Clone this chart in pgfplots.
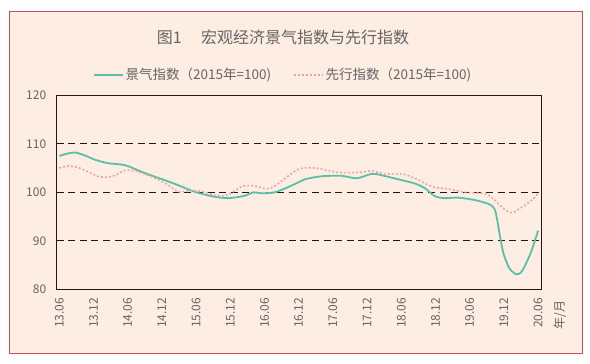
\documentclass[border=0pt]{standalone}
\usepackage{fontspec}
\setmainfont{Noto Sans CJK SC}
\usepackage{pgfplots}
\pgfplotsset{compat=1.18}
\definecolor{bgpeach}{HTML}{FDEDE3}
\definecolor{frame}{HTML}{C9515E}
\definecolor{teal1}{HTML}{5BBFA5}
\definecolor{pink1}{HTML}{F2A0A0}
\definecolor{txt}{HTML}{666464}
\definecolor{axl}{HTML}{231815}
\begin{document}
\begin{tikzpicture}
\fill[white] (0pt,0pt) rectangle (590pt,-364pt);
\draw[frame, line width=1pt, fill=bgpeach] (9pt,-11pt) rectangle (582pt,-353pt);
\node[txt, font=\fontsize{16}{18}\selectfont] at (283pt,-37.6pt) {图1\hspace{1.2em}宏观经济景气指数与先行指数};
\begin{axis}[
  at={(56.7pt,-289.3pt)}, anchor=south west,
  scale only axis, width=484.6pt, height=194pt,
  xmin=-0.46, xmax=84.56, ymin=80, ymax=120,
  axis line style={axl, line width=0.9pt},
  clip=false,
  xtick={0,6,...,84},
  xticklabels={13.06,13.12,14.06,14.12,15.06,15.12,16.06,16.12,17.06,17.12,18.06,18.12,19.06,19.12,20.06},
  ytick={80,90,100,110,120},
  major tick length=0pt,
  ymajorgrids,
  grid style={axl, line width=0.9pt, dash pattern=on 7pt off 4.6pt},
  tick label style={txt, font=\fontsize{12}{13}\selectfont},
  /pgf/number format/assume math mode=true,
  xticklabel style={rotate=90, anchor=east},
  xticklabel shift=5pt,
  yticklabel shift=7pt,
  legend columns=2,
  legend style={at={(0.467,1.105)}, anchor=center, draw=none, fill=none,
    font=\fontsize{13.5}{15}\selectfont, text=txt,
    /tikz/every even column/.append style={column sep=20pt}},
  legend image code/.code={\draw[#1] (0pt,0pt) -- (29pt,0pt);},
]
\addplot[teal1, line width=1.8pt, smooth, tension=0.5] coordinates {
(0,107.5) (1.5,108.0) (2.8,108.2) (4.5,107.6) (6.3,106.7) (8.6,106.0) (11.5,105.6)
(14.5,104.2) (16.8,103.2) (19,102.3) (21.2,101.3) (23.8,100.1) (26.7,99.2) (29.6,98.8)
(32.6,99.3) (34,100.0) (35.5,99.8) (37.8,100.0) (40.2,101.1) (42.2,102.2) (43.1,102.7)
(46,103.3) (49.5,103.4) (52.2,102.9) (54.8,103.8) (56.6,103.5) (60.1,102.5) (62.4,101.8)
(64.2,100.8) (65.9,99.2) (67.7,98.8) (70,98.9) (72.9,98.4) (75.3,97.6) (76.3,96.7)
(76.8,94.5) (77.3,91.0) (77.9,87.5) (78.5,85.5) (79.1,84.1) (80.2,83.1) (81.2,83.8)
(82.7,87.5) (84,92.1)};
\addlegendentry{景气指数（2015年=100)}
\addplot[pink1, line width=1.6pt, dash pattern=on 1.8pt off 2.2pt, smooth, tension=0.5] coordinates {
(0,105.0) (1.6,105.4) (3.3,105.1) (5.1,104.2) (6.8,103.3) (8.3,103.1) (9.8,103.5)
(11.5,104.5) (13.3,104.4) (16.2,103.2) (19.1,101.5) (20.9,100.1) (22.6,100.3) (25,100.2)
(27.3,99.4) (29.1,99.3) (30.5,100.1) (32.3,101.3) (34.3,101.3) (36.4,100.7) (37.8,101.3)
(40.2,103.4) (42.2,104.9) (44.9,105.0) (47.2,104.5) (48.9,104.1) (52.5,104.1) (54.8,104.4)
(57.1,103.8) (60.1,103.8) (61.5,103.3) (63.3,102.4) (64.2,101.8) (65.9,101.0) (68.2,100.7)
(71.2,100.0) (74.7,99.7) (76.4,98.4) (77.9,96.7) (79.4,95.8) (81.1,96.9) (82.9,98.4)
(84,99.8)};
\addlegendentry{先行指数（2015年=100)}
\node[txt, rotate=90, font=\fontsize{12}{13}\selectfont] at (rel axis cs:1.0386,-0.132) {年/月};
\end{axis}
\end{tikzpicture}
\end{document}
